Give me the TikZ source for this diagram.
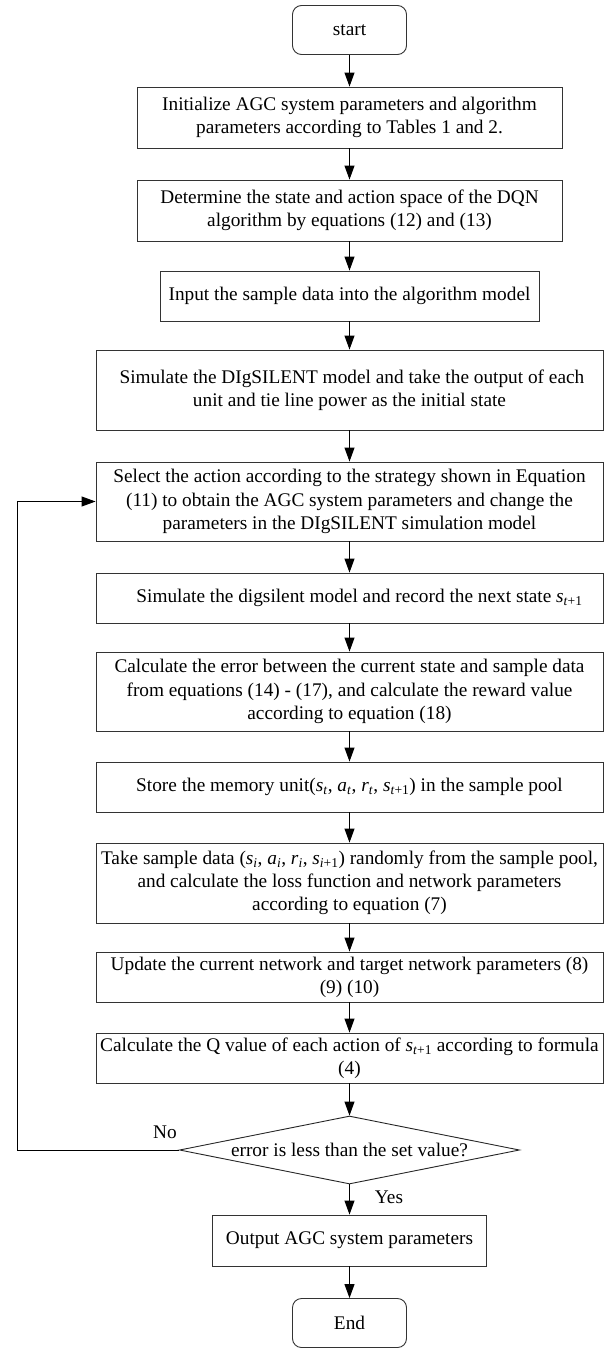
\documentclass[tikz,border=0pt]{standalone}
\usepackage{fontspec}
\setmainfont{Liberation Serif}
\usetikzlibrary{arrows.meta,shapes.geometric}

% subscripted italic symbols, e.g. s_{t+1}
\newcommand{\sym}[2]{\textit{#1}\textsubscript{#2}}

\begin{document}
\begin{tikzpicture}[x=1pt,y=-1pt,
  txt/.style={font=\fontsize{19.3}{23.2}\selectfont},
  box/.style={txt, draw=black!80, line width=0.9pt, align=center, inner sep=0pt, minimum width=507pt},
  term/.style={box, rounded corners=9pt, minimum width=114pt, minimum height=49pt},
  decision/.style={txt, draw=black!85, line width=0.9pt, diamond, aspect=5, inner sep=0pt,
                   minimum width=340pt, minimum height=68pt},
  flow/.style={-{Triangle[length=14pt,width=10pt]}, line width=1pt},
  lbl/.style={txt, inner sep=0pt}
]
\useasboundingbox[fill=white] (0,0) rectangle (608,1349);

% process chain
\node[term] (start) at (349.5,30) {start};
\node[box, minimum width=425pt, minimum height=61pt] (init) at (349.5,117.5)
  {Initialize AGC system parameters and algorithm\\parameters according to Tables 1 and 2.};
\node[box, minimum width=425pt, minimum height=61pt] (space) at (349.5,210.5)
  {Determine the state and action space of the DQN\\algorithm by equations (12) and (13)};
\node[box, minimum width=379pt, minimum height=50pt] (input) at (349.5,296)
  {Input the sample data into the algorithm model};
\node[box, minimum height=80pt] (sim) at (349.5,390)
  {\ Simulate the DIgSILENT model and take the output of each\\unit and tie line power as the initial state};
\node[box, minimum height=79pt] (select) at (349.5,501.5)
  {Select the action according to the strategy shown in Equation\\(11) to obtain the AGC system parameters and change the\\parameters in the DIgSILENT simulation model};
\node[box, minimum height=50pt] (next) at (349.5,598)
  {\hspace{20pt}Simulate the digsilent model and record the next state \sym{s}{\textit{t}+1}};
\node[box, minimum height=79pt] (reward) at (349.5,691.5)
  {Calculate the error between the current state and sample data\\from equations (14) - (17), and calculate the reward value\\according to equation (18)};
\node[box, minimum height=50pt] (store) at (349.5,787)
  {Store the memory unit(\sym{s}{\textit{t}}, \sym{a}{\textit{t}}, \sym{r}{\textit{t}}, \sym{s}{\textit{t}+1}) in the sample pool};
\node[box, minimum height=80pt] (sample) at (349.5,883)
  {Take sample data (\sym{s}{\textit{i}}, \sym{a}{\textit{i}}, \sym{r}{\textit{i}}, \sym{s}{\textit{i}+1}) randomly from the sample pool,\\and calculate the loss function and network parameters\\according to equation (7)};
\node[box, minimum height=50pt] (update) at (349.5,977)
  {Update the current network and target network parameters (8)\\(9) (10)};
\node[box, minimum height=50pt] (qval) at (349.5,1058)
  {Calculate the Q value of each action of \sym{s}{\textit{t}+1} according to formula\\(4)};
\node[decision] (check) at (349.5,1150) {error is less than the set value?};
\node[box, minimum width=274pt, minimum height=51pt] (output) at (349.5,1240.5)
  {Output AGC system parameters};
\node[term] (end) at (349.5,1323) {End};

% branch labels
\node[lbl] (no) at (165,1132) {No};
\node[lbl] (yes) at (389,1197) {Yes};

% loop-back corner
\coordinate (back) at (17,1150);

% connectors
\draw[flow] (start) -- (init);
\draw[flow] (init) -- (space);
\draw[flow] (space) -- (input);
\draw[flow] (input) -- (sim);
\draw[flow] (sim) -- (select);
\draw[flow] (select) -- (next);
\draw[flow] (next) -- (reward);
\draw[flow] (reward) -- (store);
\draw[flow] (store) -- (sample);
\draw[flow] (sample) -- (update);
\draw[flow] (update) -- (qval);
\draw[flow] (qval) -- (check);
\draw[flow] (check) -- (output);
\draw[flow] (output) -- (end);
\draw[flow] (check.west) -- (back) |- (select.west);
\end{tikzpicture}
\end{document}
